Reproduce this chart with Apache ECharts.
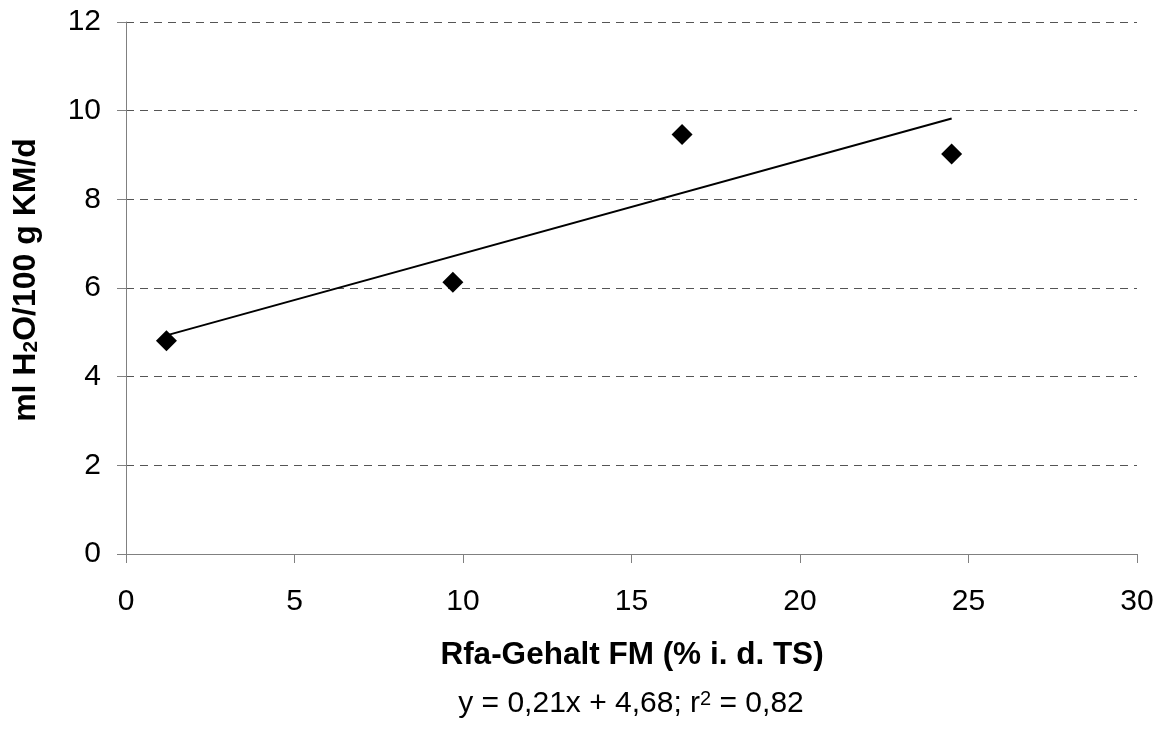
<!DOCTYPE html>
<html>
<head>
<meta charset="utf-8">
<script src="https://cdn.jsdelivr.net/npm/echarts@6/dist/echarts.min.js"></script>
<style>
  html, body { margin: 0; padding: 0; background: #ffffff; }
  #chart { width: 1160px; height: 729px; }
</style>
</head>
<body>
<div id="chart"></div>
<script>
// Crude fibre content of the feed (% of dry matter) and water intake per 100 g body mass per day
const rfaContent = [1.2, 9.7, 16.5, 24.5];
const waterIntake = [4.81, 6.13, 9.46, 9.02];

// Linear trend as reported: y = 0,21x + 4,68; r² = 0,82
const trendSlope = 0.21;
const trendIntercept = 4.68;
const rSquared = 0.82;

// Axis ranges and tick steps
const xTicks = { min: 0, max: 30, interval: 5 };
const yTicks = { min: 0, max: 12, interval: 2 };

const FONT = '"Liberation Sans", Arial, Helvetica, sans-serif';
const fmt = v => v.toFixed(2).replace('.', ',');

const scatterData = rfaContent.map((x, i) => [x, waterIntake[i]]);
const xFirst = Math.min(...rfaContent);
const xLast = Math.max(...rfaContent);
const trendData = [xFirst, xLast].map(x => [x, trendSlope * x + trendIntercept]);

const chart = echarts.init(document.getElementById('chart'), null, { renderer: 'canvas' });

chart.setOption({
  animation: false,
  backgroundColor: '#ffffff',
  grid: { left: 126, right: 23, top: 22, bottom: 175, containLabel: false, outerBoundsMode: 'none' },
  xAxis: {
    type: 'value',
    min: xTicks.min, max: xTicks.max, interval: xTicks.interval,
    axisLine: { show: true, lineStyle: { color: '#808080', width: 1 } },
    axisTick: { show: true, inside: false, length: 9, lineStyle: { color: '#808080', width: 1 } },
    axisLabel: { color: '#000', fontFamily: FONT, fontSize: 30, margin: 33 },
    splitLine: { show: false }
  },
  yAxis: {
    type: 'value',
    min: yTicks.min, max: yTicks.max, interval: yTicks.interval,
    axisLine: { show: true, lineStyle: { color: '#808080', width: 1 } },
    axisTick: { show: true, inside: false, length: 9, lineStyle: { color: '#808080', width: 1 } },
    axisLabel: { color: '#000', fontFamily: FONT, fontSize: 30, margin: 25 },
    splitLine: { show: true, lineStyle: { color: '#555555', width: 1, type: [8, 6] } }
  },
  series: [
    {
      name: 'Messwerte',
      type: 'scatter',
      data: scatterData,
      symbol: 'diamond',
      symbolSize: 21,
      itemStyle: { color: '#000', opacity: 1 },
      z: 3
    },
    {
      name: 'Trend',
      type: 'line',
      data: trendData,
      symbol: 'none',
      lineStyle: { color: '#000', width: 2 },
      z: 2
    }
  ],
  graphic: [
    {
      type: 'text',
      x: 26, y: 280,
      rotation: Math.PI / 2,
      style: {
        text: 'ml H{sub|2}O/100 g KM/d',
        fontFamily: FONT, fontSize: 32, fontWeight: 'bold', fill: '#000',
        align: 'center', verticalAlign: 'middle',
        rich: {
          sub: { fontFamily: FONT, fontSize: 21, fontWeight: 'bold', lineHeight: 21, verticalAlign: 'bottom', fill: '#000' }
        }
      }
    },
    {
      type: 'text',
      x: 632, y: 655,
      style: {
        text: 'Rfa-Gehalt FM (% i. d. TS)',
        fontFamily: FONT, fontSize: 31.5, fontWeight: 'bold', fill: '#000',
        align: 'center', verticalAlign: 'middle'
      }
    },
    {
      type: 'text',
      x: 631, y: 704,
      style: {
        text: 'y = ' + fmt(trendSlope) + 'x + ' + fmt(trendIntercept) + '; r{sup|2} = ' + fmt(rSquared),
        fontFamily: FONT, fontSize: 30, fill: '#000',
        align: 'center', verticalAlign: 'middle',
        rich: {
          sup: { fontFamily: FONT, fontSize: 20, lineHeight: 20, verticalAlign: 'top', fill: '#000' }
        }
      }
    }
  ]
});
</script>
</body>
</html>
